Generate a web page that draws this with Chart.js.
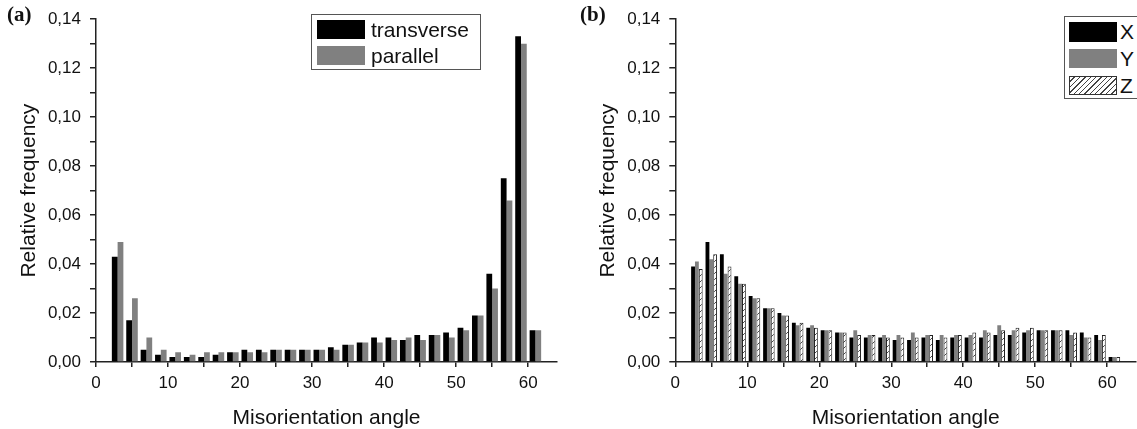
<!DOCTYPE html>
<html>
<head>
<meta charset="utf-8">
<script src="https://cdn.jsdelivr.net/npm/chart.js@4.4.1/dist/chart.umd.min.js"></script>
<style>
  body { margin: 0; width: 1137px; height: 429px; overflow: hidden; background: #fff; position: relative;
         font-family: 'Liberation Sans', Arial, sans-serif; color: #111; }
  canvas { position: absolute; top: 0; }
  #chartA { left: 0; }
  #chartB { left: 568px; }
  .tag { position: absolute; top: 2px; font-family: 'Liberation Serif', 'Times New Roman', serif;
         font-weight: bold; font-size: 21px; }
  .legend { position: absolute; border: 1px solid #555; background: #fff; box-sizing: border-box; }
  .sw { position: absolute; width: 48px; box-sizing: border-box; }
  .lt { position: absolute; font-size: 21px; line-height: 21px; white-space: nowrap; }
</style>
</head>
<body>
<canvas id="chartA" width="568" height="429"></canvas>
<canvas id="chartB" width="569" height="429"></canvas>

<div class="tag" style="left:7px;">(a)</div>
<div class="tag" style="left:580px;">(b)</div>

<div class="legend" style="left:311px; top:14px; width:170px; height:56px;">
  <div class="sw" style="left:5px; top:5px; height:19px; background:#000;"></div>
  <div class="lt" style="left:59px; top:4px;">transverse</div>
  <div class="sw" style="left:5px; top:31px; height:19px; background:#808080;"></div>
  <div class="lt" style="left:59px; top:30px;">parallel</div>
</div>

<div class="legend" style="left:1064px; top:16px; width:90px; height:83px;">
  <div class="sw" style="left:4px; top:5px; height:20px; background:#000;"></div>
  <div class="lt" style="left:55px; top:4px;">X</div>
  <div class="sw" style="left:4px; top:32px; height:19px; background:#808080;"></div>
  <div class="lt" style="left:55px; top:31px;">Y</div>
  <div class="sw" style="left:4px; top:59px; height:19px; border:1px solid #333;
       background:repeating-linear-gradient(135deg, #fff 0 2.8px, #444 2.8px 3.8px);"></div>
  <div class="lt" style="left:55px; top:58px;">Z</div>
</div>

<script>
// bin centres (misorientation angle, degrees)
const bins = [3, 5, 7, 9, 11, 13, 15, 17, 19, 21, 23, 25, 27, 29, 31,
              33, 35, 37, 39, 41, 43, 45, 47, 49, 51, 53, 55, 57, 59, 61];

// panel (a)
const transverse = [0.043, 0.017, 0.005, 0.003, 0.002, 0.002, 0.002, 0.003, 0.004, 0.005,
                    0.005, 0.005, 0.005, 0.005, 0.005, 0.006, 0.007, 0.008, 0.010, 0.010,
                    0.009, 0.011, 0.011, 0.012, 0.014, 0.019, 0.036, 0.075, 0.133, 0.013];
const parallel   = [0.049, 0.026, 0.010, 0.005, 0.004, 0.003, 0.004, 0.004, 0.004, 0.004,
                    0.004, 0.005, 0.005, 0.005, 0.005, 0.005, 0.007, 0.008, 0.008, 0.009,
                    0.010, 0.009, 0.011, 0.010, 0.013, 0.019, 0.030, 0.066, 0.130, 0.013];

// panel (b)
const seriesX = [0.039, 0.049, 0.044, 0.035, 0.027, 0.022, 0.020, 0.016, 0.014, 0.013,
                 0.012, 0.010, 0.010, 0.010, 0.009, 0.009, 0.010, 0.009, 0.010, 0.010,
                 0.010, 0.011, 0.011, 0.012, 0.013, 0.013, 0.013, 0.012, 0.011, 0.002];
const seriesY = [0.041, 0.042, 0.036, 0.032, 0.026, 0.022, 0.019, 0.015, 0.015, 0.013,
                 0.012, 0.013, 0.011, 0.011, 0.011, 0.012, 0.011, 0.011, 0.011, 0.011,
                 0.013, 0.015, 0.013, 0.013, 0.013, 0.013, 0.011, 0.010, 0.009, 0.002];
const seriesZ = [0.038, 0.044, 0.039, 0.032, 0.026, 0.022, 0.019, 0.016, 0.014, 0.013,
                 0.012, 0.011, 0.011, 0.010, 0.010, 0.010, 0.011, 0.010, 0.011, 0.012,
                 0.012, 0.013, 0.014, 0.014, 0.013, 0.013, 0.012, 0.010, 0.011, 0.002];

// tick labels
const xTickLabels = [0, 10, 20, 30, 40, 50, 60];
const yTickLabels = ['0,00', '0,02', '0,04', '0,06', '0,08', '0,10', '0,12', '0,14'];

Chart.defaults.font.family = "'Liberation Sans', Arial, sans-serif";
Chart.defaults.color = '#111';

const axisColor = '#222';

function pts(vals) {
  return bins.map((b, i) => ({ x: b, y: vals[i] }));
}

// hatch fill for Z
function hatch() {
  const c = document.createElement('canvas');
  c.width = 6; c.height = 6;
  const g = c.getContext('2d');
  g.fillStyle = '#fff';
  g.fillRect(0, 0, 6, 6);
  g.strokeStyle = '#333';
  g.lineWidth = 0.9;
  g.beginPath();
  g.moveTo(0, 6); g.lineTo(6, 0);
  g.moveTo(-1, 1); g.lineTo(1, -1);
  g.moveTo(5, 7); g.lineTo(7, 5);
  g.stroke();
  return g.createPattern(c, 'repeat');
}

function panelOptions(yWidth, titlePad, rightPad) {
  return {
    responsive: false,
    animation: false,
    layout: { padding: { top: 19, right: rightPad, left: 0, bottom: 0 } },
    plugins: { legend: { display: false }, tooltip: { enabled: false } },
    datasets: { bar: { categoryPercentage: 0.8, barPercentage: 1.0 } },
    scales: {
      x: {
        type: 'linear', min: 0, max: 64, offset: false,
        grid: { offset: false, drawOnChartArea: false, drawTicks: true, tickLength: 5, color: axisColor, lineWidth: 1.5 },
        border: { color: axisColor, width: 1.5 },
        ticks: {
          stepSize: 5, autoSkip: false, maxRotation: 0, includeBounds: false, padding: 6,
          font: { size: 17 },
          callback: v => xTickLabels.includes(v) ? String(v) : ''
        },
        title: { display: true, text: 'Misorientation angle', font: { size: 21, lineHeight: 1 },
                 padding: { top: 0, bottom: 0.5 } },
        afterFit: s => { s.height = 67; }
      },
      y: {
        min: 0, max: 0.14,
        grid: { drawOnChartArea: false, drawTicks: true, tickLength: 6, color: axisColor, lineWidth: 1.5 },
        border: { color: axisColor, width: 1.5 },
        ticks: {
          stepSize: 0.01, autoSkip: false, includeBounds: false, padding: 9,
          font: { size: 17 },
          callback: v => {
            const k = Math.round(v * 100);
            return k % 2 === 0 ? yTickLabels[k / 2] : '';
          }
        },
        title: { display: true, text: 'Relative frequency', font: { size: 21, lineHeight: 1 },
                 padding: { top: titlePad, bottom: 0 } },
        afterFit: s => { s.width = yWidth; }
      }
    }
  };
}

window.onload = function () {
  new Chart(document.getElementById('chartA').getContext('2d'), {
    type: 'bar',
    data: {
      datasets: [
        { label: 'transverse', data: pts(transverse), backgroundColor: '#000' },
        { label: 'parallel', data: pts(parallel), backgroundColor: '#808080' }
      ]
    },
    options: panelOptions(96, 18.5, 11)
  });

  new Chart(document.getElementById('chartB').getContext('2d'), {
    type: 'bar',
    data: {
      datasets: [
        { label: 'X', data: pts(seriesX), backgroundColor: '#000' },
        { label: 'Y', data: pts(seriesY), backgroundColor: '#808080' },
        { label: 'Z', data: pts(seriesZ), backgroundColor: hatch(), borderColor: '#222', borderWidth: 1 }
      ]
    },
    options: panelOptions(107.3, 29.8, 1)
  });
};
</script>
</body>
</html>
